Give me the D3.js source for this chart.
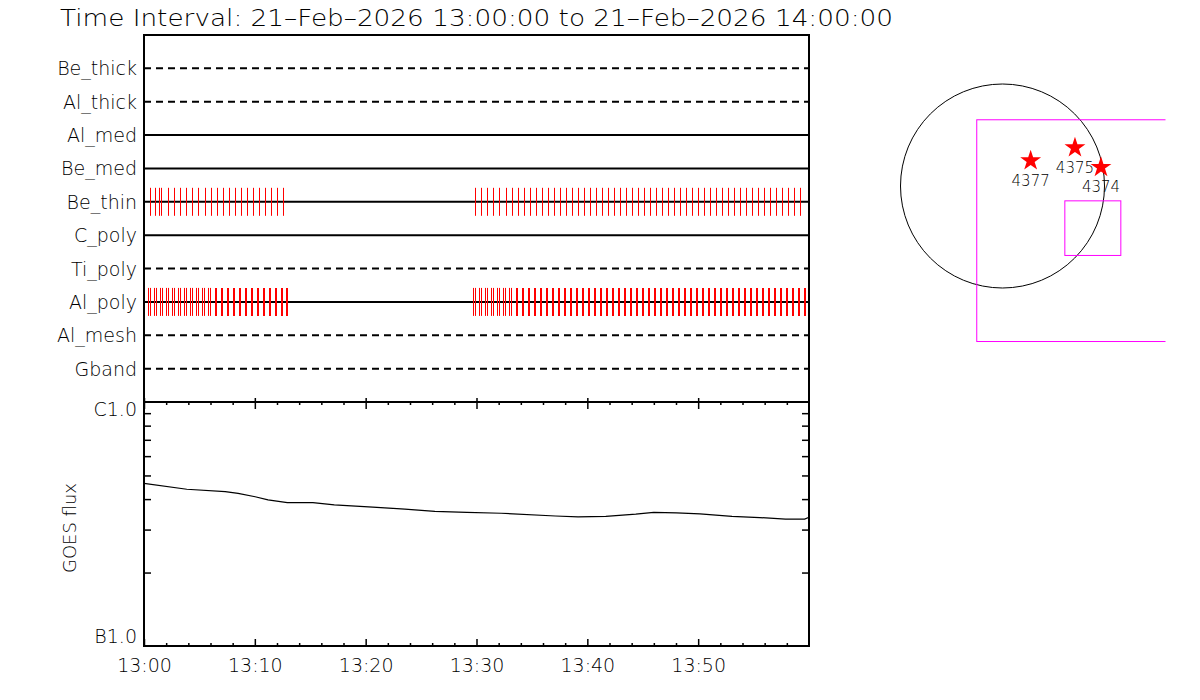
<!DOCTYPE html>
<html><head><meta charset="utf-8">
<script src="https://cdn.jsdelivr.net/npm/d3@7"></script>
<style>
html,body{margin:0;padding:0;background:#fff;}
svg{display:block;font-family:"DejaVu Sans",sans-serif;font-weight:200;}
</style></head>
<body><svg id="c" width="1200" height="700"></svg>
<script>
// ---------- data ----------
const titleText = "Time Interval: 21\u2013Feb\u20132026 13:00:00 to 21\u2013Feb\u20132026 14:00:00";
const filters = ["Be_thick","Al_thick","Al_med","Be_med","Be_thin","C_poly","Ti_poly","Al_poly","Al_mesh","Gband"];
const filterState = ["off","off","on","on","on","on","off","on","off","off"];
// exposure times, minutes after 13:00
const beThinTimes = [0.00,0.60,1.08,1.38,1.62,2.19,2.73,3.28,3.82,4.36,4.90,5.57,6.11,6.65,7.19,7.73,8.27,8.82,9.36,9.90,10.44,10.98,11.52,12.03,12.57,
 29.89,30.43,30.97,31.52,32.06,32.69,33.23,33.77,34.31,34.86,35.40,35.94,36.48,37.02,37.56,38.10,38.65,39.19,39.73,40.27,40.81,41.35,41.89,42.44,42.98,
 43.52,44.06,44.60,45.14,45.68,46.23,46.77,47.31,47.85,48.39,48.93,49.47,50.01,50.56,51.10,51.64,52.18,52.72,53.26,53.80,54.35,54.89,55.43,55.97,56.51,
 57.05,57.59,58.14,58.68,59.22];
const alPolyShortTimes = [0.48,0.99,1.56,2.10,2.65,3.19,3.73,4.27,4.81,5.35,5.89,
 29.79,30.31,30.85,31.39,31.93,32.48,33.04];
const alPolyLongTimes = [6.50,7.04,7.58,8.12,8.66,9.20,9.74,10.29,10.83,11.37,11.91,12.42,12.93,
 33.63,34.17,34.71,35.25,35.79,36.33,36.88,37.42,37.96,38.50,39.04,39.58,40.12,40.67,41.21,41.75,42.29,42.83,43.37,43.91,
 44.46,45.00,45.54,46.08,46.62,47.16,47.70,48.25,48.79,49.33,49.87,50.41,50.95,51.49,52.04,52.58,53.12,53.66,54.20,54.74,
 55.28,55.83,56.37,56.91,57.45,57.99,58.53,59.07,59.62];
// GOES flux (W/m^2) vs minutes after 13:00
const goesTimes = [0,3.86,7.33,8.49,10.03,11.19,12.93,15.24,17.17,20.64,23.54,26.24,29.13,32.22,37.12,39.16,41.67,44.37,45.99,48.04,50.16,53.05,55.56,57.88,59.61,60];
const goesFlux  = [4.64e-7,4.39e-7,4.29e-7,4.22e-7,4.09e-7,3.97e-7,3.87e-7,3.87e-7,3.79e-7,3.71e-7,3.64e-7,3.56e-7,3.53e-7,3.50e-7,3.41e-7,3.38e-7,3.40e-7,3.47e-7,3.53e-7,3.51e-7,3.48e-7,3.40e-7,3.36e-7,3.31e-7,3.31e-7,3.37e-7];
const timeTickValues = [0,10,20,30,40,50];
const timeTickLabels = ["13:00","13:10","13:20","13:30","13:40","13:50"];
const timeMinorValues = [2,4,6,8,12,14,16,18,22,24,26,28,32,34,36,38,42,44,46,48,52,54,56,58];
const fluxLabelValues = [1e-7,1e-6];
const fluxLabels = ["B1.0","C1.0"];
const fluxMinorValues = [2e-7,3e-7,4e-7,5e-7,6e-7,7e-7,8e-7,9e-7];
// context map (arcsec)
const arNumbers = ["4377","4375","4374"];
const arX = [265,682,927];
const arY = [238,360,176];
const fovBig = [-247,628,1600,-1459];   // x1, y1, x2, y2
const fovSmall = [582,-135,1109,-649];

// ---------- drawing ----------
const svg = d3.select("#c");
const L = 144, R = 809, T = 35, M = 402, B = 646;
const x = d3.scaleLinear().domain([0,60]).range([L,R]);
const yRow = d3.scalePoint().domain(filters).range([T,M]).padding(1);
const yF = d3.scaleLog().domain([1e-7,1e-6]).range([B,M]);

svg.append("text").attr("x",60).attr("y",26).attr("font-size",23)
  .attr("textLength",833).attr("lengthAdjust","spacingAndGlyphs").text(titleText);

// filter rows
const g1 = svg.append("g");
g1.selectAll("line.row").data(filters).join("line").attr("class","row")
  .attr("x1",L).attr("x2",R).attr("y1",d=>yRow(d)).attr("y2",d=>yRow(d))
  .attr("stroke","#000").attr("stroke-width",2)
  .attr("stroke-dasharray",(d,i)=>filterState[i]==="off"?"7,5":null);
g1.selectAll("text.rl").data(filters).join("text").attr("class","rl")
  .attr("x",137).attr("y",d=>yRow(d)+7).attr("text-anchor","end").attr("font-size",19).text(d=>d);

const tickH = 14;
g1.selectAll("line.bt").data(beThinTimes).join("line").attr("class","bt")
  .attr("x1",d=>Math.floor(x(d))+0.5).attr("x2",d=>Math.floor(x(d))+0.5)
  .attr("y1",yRow("Be_thin")-tickH).attr("y2",yRow("Be_thin")+tickH).attr("stroke","#ff0000").attr("stroke-width",1);
g1.selectAll("line.apl").data(alPolyLongTimes).join("line").attr("class","apl")
  .attr("x1",d=>Math.round(x(d))).attr("x2",d=>Math.round(x(d)))
  .attr("y1",yRow("Al_poly")-tickH).attr("y2",yRow("Al_poly")+tickH).attr("stroke","#ff0000").attr("stroke-width",2);
g1.selectAll("line.aps1").data(alPolyShortTimes).join("line").attr("class","aps1")
  .attr("x1",d=>Math.round(x(d))-0.5).attr("x2",d=>Math.round(x(d))-0.5)
  .attr("y1",yRow("Al_poly")-tickH).attr("y2",yRow("Al_poly")+tickH).attr("stroke","#ff0000").attr("stroke-width",1);
g1.selectAll("line.aps2").data(alPolyShortTimes).join("line").attr("class","aps2")
  .attr("x1",d=>Math.round(x(d))+1.5).attr("x2",d=>Math.round(x(d))+1.5)
  .attr("y1",yRow("Al_poly")-tickH).attr("y2",yRow("Al_poly")+tickH).attr("stroke","#ff0000").attr("stroke-width",1);

// GOES curve
const line = d3.line().x((d,i)=>x(goesTimes[i])).y(d=>yF(d));
svg.append("path").datum(goesFlux).attr("d",line).attr("fill","none").attr("stroke","#000").attr("stroke-width",1.2);

// axes
function styleAxis(g){ g.select(".domain").remove(); g.selectAll("line").attr("stroke","#000").attr("stroke-width",1.5); g.selectAll("text").attr("font-size",19).attr("font-family","DejaVu Sans").attr("font-weight",200).attr("fill","#000"); }
svg.append("g").attr("transform",`translate(0,${B})`)
  .call(d3.axisBottom(x).tickValues(timeTickValues).tickFormat((d,i)=>timeTickLabels[i]).tickSize(-7).tickPadding(13)).call(styleAxis);
svg.append("g").attr("transform",`translate(0,${B})`)
  .call(d3.axisBottom(x).tickValues(timeMinorValues).tickFormat("").tickSize(-3)).call(styleAxis);
svg.append("g").attr("transform",`translate(0,${M})`)
  .call(d3.axisTop(x).tickValues(timeTickValues).tickFormat("").tickSize(-7)).call(styleAxis);
svg.append("g").attr("transform",`translate(0,${M})`)
  .call(d3.axisTop(x).tickValues(timeTickValues).tickFormat("").tickSize(4)).call(styleAxis);
svg.append("g").attr("transform",`translate(0,${M})`)
  .call(d3.axisTop(x).tickValues(timeMinorValues).tickFormat("").tickSize(-3)).call(styleAxis);
svg.append("g").attr("transform",`translate(${L},0)`)
  .call(d3.axisLeft(yF).tickValues(fluxMinorValues).tickFormat("").tickSize(-7)).call(styleAxis);
svg.append("g").attr("transform",`translate(${R},0)`)
  .call(d3.axisRight(yF).tickValues(fluxMinorValues).tickFormat("").tickSize(-7)).call(styleAxis);
// decade labels sit just inside the panel edges
svg.selectAll("text.fl").data(fluxLabelValues).join("text").attr("class","fl")
  .attr("x",L-7).attr("y",(d,i)=> i===0 ? yF(d)-3 : yF(d)+14)
  .attr("text-anchor","end").attr("font-size",19).text((d,i)=>fluxLabels[i]);

// frames
svg.append("rect").attr("x",L).attr("y",T).attr("width",R-L).attr("height",M-T).attr("fill","none").attr("stroke","#000").attr("stroke-width",2);
svg.append("rect").attr("x",L).attr("y",M).attr("width",R-L).attr("height",B-M).attr("fill","none").attr("stroke","#000").attr("stroke-width",2);

svg.append("text").attr("transform",`translate(76,528) rotate(-90)`).attr("text-anchor","middle").attr("font-size",18).text("GOES flux");

// context map
const mx = d3.scaleLinear().domain([-960,960]).range([900.5,1104.5]);
const my = d3.scaleLinear().domain([-960,960]).range([288,84]);
svg.append("clipPath").attr("id","mapclip").append("rect").attr("x",880).attr("y",60).attr("width",285.5).attr("height",300);
const gm = svg.append("g").attr("clip-path","url(#mapclip)");
gm.append("circle").attr("cx",mx(0)).attr("cy",my(0)).attr("r",mx(960)-mx(0)).attr("fill","none").attr("stroke","#000").attr("stroke-width",1);
[fovBig,fovSmall].forEach(f=>{
  gm.append("rect").attr("x",mx(f[0])+0.5).attr("y",my(f[1])+0.5).attr("width",mx(f[2])-mx(f[0])).attr("height",my(f[3])-my(f[1]))
    .attr("fill","none").attr("stroke","#ff00ff").attr("stroke-width",1);
});
const star = d3.symbol().type(d3.symbolStar).size(135);
gm.selectAll("path.star").data(arNumbers).join("path").attr("class","star")
  .attr("transform",(d,i)=>`translate(${mx(arX[i])},${my(arY[i])})`).attr("d",star).attr("fill","#ff0000");
gm.selectAll("text.ar").data(arNumbers).join("text").attr("class","ar")
  .attr("x",(d,i)=>mx(arX[i])).attr("y",(d,i)=>my(arY[i])+25).attr("text-anchor","middle").attr("font-size",15).text(d=>d);
</script></body></html>
